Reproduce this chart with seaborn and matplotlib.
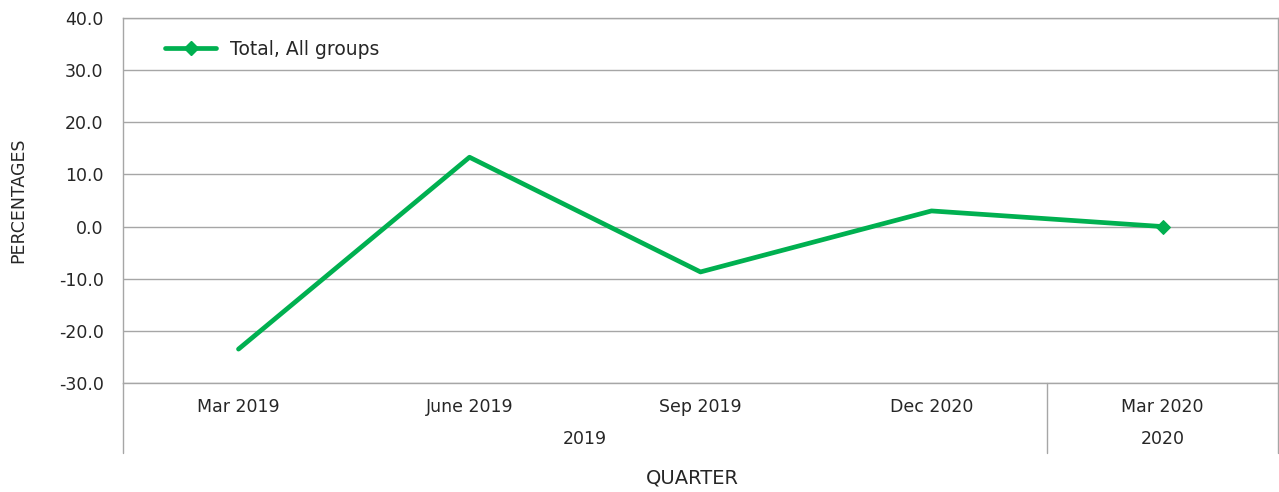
import pandas as pd
import matplotlib.pyplot as plt
import seaborn as sns
from matplotlib.lines import Line2D

# --- data ---
quarters = ["Mar 2019", "June 2019", "Sep 2019", "Dec 2020", "Mar 2020"]
years = ["2019", "2019", "2019", "2019", "2020"]
total_all_groups = [-23.5, 13.3, -8.7, 3.0, 0.0]
y_ticks = [-30, -20, -10, 0, 10, 20, 30, 40]

df = pd.DataFrame({"pos": range(len(quarters)), "Quarter": quarters,
                   "Year": years, "Value": total_all_groups})

sns.set_theme(style="white")
plt.rcParams['font.family'] = ['DejaVu Sans']

GREEN = "#00b050"
GRID = "#a6a6a6"
TEXT = "#262626"
FS = 12.5

fig = plt.figure(figsize=(12.79, 4.92), dpi=100)
ax = fig.add_axes([123 / 1279, 1 - 383 / 492, 1155 / 1279, 365 / 492])

sns.lineplot(data=df, x="pos", y="Value", ax=ax, color=GREEN, linewidth=3.4,
             marker="D", markersize=7, markevery=[len(df) - 1],
             markeredgecolor=GREEN, legend=False)

ax.set_xlim(-0.5, len(quarters) - 0.5)
ax.set_ylim(y_ticks[0], y_ticks[-1])
ax.set_yticks(y_ticks)
ax.set_yticklabels([f"{v:.1f}" for v in y_ticks], fontsize=FS, color=TEXT)
ax.yaxis.grid(True, color=GRID, linewidth=1)
ax.set_axisbelow(True)
for s in ["top", "bottom", "left", "right"]:
    ax.spines[s].set_color(GRID)
    ax.spines[s].set_linewidth(1)
ax.tick_params(axis="y", length=0, pad=14)

# first row of the category axis
ax.set_xticks(df["pos"])
ax.set_xticklabels(quarters, fontsize=FS, color=TEXT)
ax.tick_params(axis="x", length=0, pad=11)
ax.set_xlabel("")
ax.set_ylabel("PERCENTAGES", fontsize=FS, color=TEXT)
ax.yaxis.set_label_coords(-0.083, 0.5)

# second row: year groups with separators
trans = ax.get_xaxis_transform()
row_bottom = -70 / 365
for xpos in [-0.5, len(quarters) - 0.5]:
    ax.plot([xpos, xpos], [0, row_bottom], transform=trans, color=GRID,
            linewidth=1, clip_on=False)
for yr in pd.unique(df["Year"]):
    sub = df[df["Year"] == yr]
    ax.text(sub["pos"].mean(), -56 / 365, yr, transform=trans, ha="center",
            va="center", fontsize=FS, color=TEXT)
    start = sub["pos"].min() - 0.5
    if start > -0.5:
        ax.plot([start, start], [0, row_bottom], transform=trans, color=GRID,
                linewidth=1, clip_on=False)

fig.text(692 / 1279, 1 - 478 / 492, "QUARTER", ha="center", va="center",
         fontsize=14, color=TEXT)

handle = Line2D([], [], color=GREEN, linewidth=3.4, marker="D", markersize=7,
                markevery=[2])
ax.legend([handle], ["Total, All groups"], loc="center left", frameon=False,
          fontsize=13.5, bbox_to_anchor=(0.022, 0.915), handlelength=2.7,
          handletextpad=0.75, numpoints=1, labelcolor=TEXT)

fig.savefig("out.png", dpi=100)
